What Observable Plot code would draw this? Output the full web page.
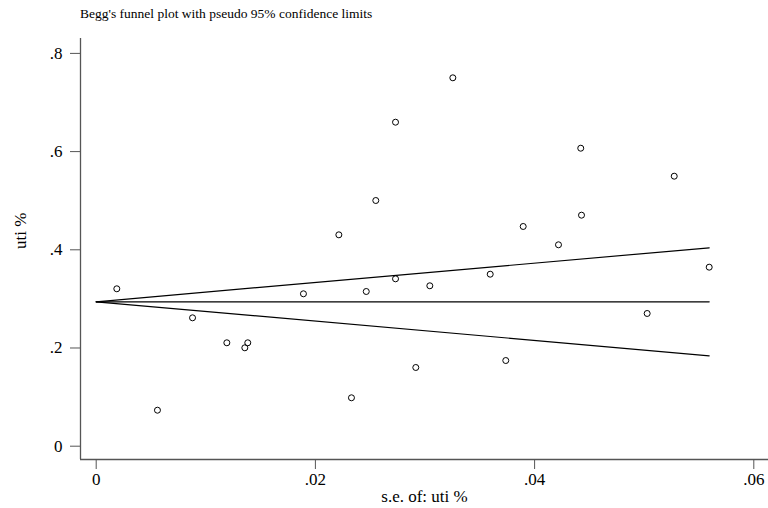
<!DOCTYPE html>
<html>
<head>
<meta charset="utf-8">
<script src="https://cdn.jsdelivr.net/npm/d3@7"></script>
<script src="https://cdn.jsdelivr.net/npm/@observablehq/plot@0.6"></script>
<style>
  html, body { margin: 0; padding: 0; background: #fff; }
  #title { height: 30px; box-sizing: border-box; padding-left: 80px; padding-top: 6px;
           font-family: "Liberation Serif", "Tinos", "Times New Roman", "DejaVu Serif", serif; font-size: 13.5px; color: #000; line-height: 16px; }
  svg { display: block; }
  svg text { font-family: "Liberation Serif", "Tinos", "Times New Roman", "DejaVu Serif", serif !important; }
</style>
</head>
<body>
<div id="title">Begg's funnel plot with pseudo 95% confidence limits</div>
<div id="chart"></div>
<script>
// Study standard errors (x) and effect sizes (y)
const se = [0.00188, 0.00559, 0.00879, 0.01192, 0.01356, 0.01383, 0.01891, 0.02214, 0.02329, 0.02464,
            0.02551, 0.02731, 0.02731, 0.02916, 0.03044, 0.03254, 0.03595, 0.03737, 0.03896, 0.04218,
            0.04421, 0.04428, 0.05027, 0.05274, 0.05593];
const es = [0.3206, 0.0733, 0.2615, 0.2106, 0.2004, 0.2106, 0.3104, 0.4305, 0.0986, 0.3151,
            0.5004, 0.6599, 0.3409, 0.1603, 0.3267, 0.7503, 0.3503, 0.1745, 0.4475, 0.4102,
            0.6069, 0.4705, 0.2703, 0.5499, 0.3646];

// Pseudo 95% confidence limits and pooled estimate
const funnelSe = [0, 0.05593];
const funnelUpper = [0.2941, 0.4041];
const funnelLower = [0.2941, 0.1841];
const pooledLine = [0.2941, 0.2941];

const xTicks = [0, 0.02, 0.04, 0.06];
const yTicks = [0, 0.2, 0.4, 0.6, 0.8];
const xTitle = "s.e. of: uti %";
const yTitle = "uti %";

const points = se.map((s, i) => ({se: s, es: es[i]}));
const mk = (ys) => funnelSe.map((s, i) => ({se: s, y: ys[i]}));
const fmt = d => d === 0 ? "0" : d3.format(".2~f")(d).replace(/^0/, "");

const xDomain = [-0.001432, 0.061341];
const yDomain = [-0.02709, 0.83035];
const serif = "'Liberation Serif', 'Tinos', 'Times New Roman', 'DejaVu Serif', serif";

const plot = Plot.plot({
  width: 768,
  height: 478,
  marginTop: 8,
  marginBottom: 49,
  marginLeft: 80,
  marginRight: 0,
  style: {fontFamily: serif, fontSize: "17px", color: "#000", background: "#fff"},
  x: {domain: xDomain, axis: null},
  y: {domain: yDomain, axis: null},
  marks: [
    Plot.ruleX([xDomain[0]], {stroke: "#555", strokeWidth: 1.3}),
    Plot.ruleY([yDomain[0]], {stroke: "#555", strokeWidth: 1.3}),
    Plot.axisX({ticks: xTicks, tickFormat: fmt, tickSize: 10, tickPadding: 3, stroke: "#555", fill: "#000", label: null, fontSize: 17}),
    Plot.axisY({ticks: yTicks, tickFormat: fmt, tickSize: 10, tickPadding: 8, stroke: "#555", fill: "#000", label: null, fontSize: 17}),
    Plot.line(mk(pooledLine), {x: "se", y: "y", stroke: "#000", strokeWidth: 1.2}),
    Plot.line(mk(funnelUpper), {x: "se", y: "y", stroke: "#000", strokeWidth: 1.2}),
    Plot.line(mk(funnelLower), {x: "se", y: "y", stroke: "#000", strokeWidth: 1.2}),
    Plot.dot(points, {x: "se", y: "es", r: 3, stroke: "#000", fill: "none", strokeWidth: 1}),
    Plot.text([xTitle], {frameAnchor: "bottom", dy: 37, lineAnchor: "middle", fontSize: 17, fill: "#000"}),
    Plot.text([yTitle], {frameAnchor: "left", dx: -60, rotate: -90, lineAnchor: "middle", fontSize: 17, fill: "#000"})
  ]
});
document.getElementById("chart").appendChild(plot);
</script>
</body>
</html>
